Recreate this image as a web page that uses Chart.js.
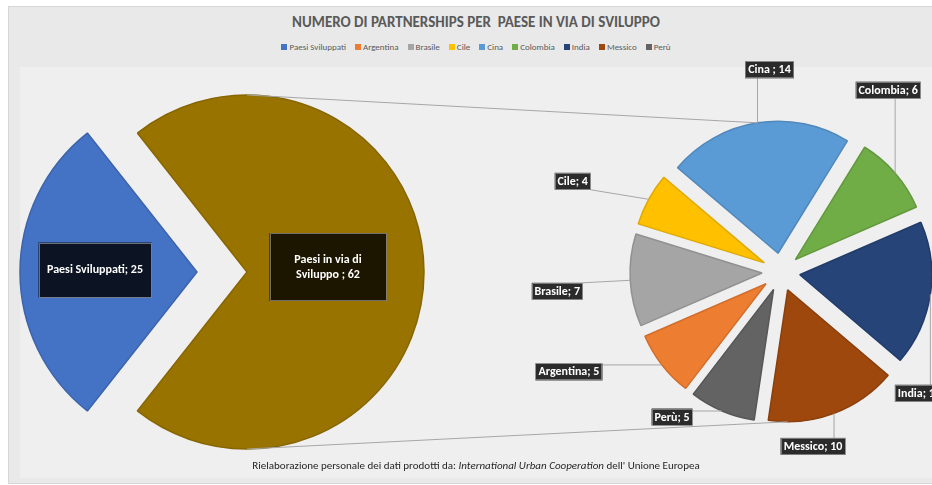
<!DOCTYPE html>
<html lang="it">
<head>
<meta charset="UTF-8">
<title>Numero di partnerships per paese in via di sviluppo</title>
<script src="https://cdn.jsdelivr.net/npm/chart.js"></script>
<style>
  body { margin: 0; background: #ffffff; font-family: Carlito, "Liberation Sans Narrow", "DejaVu Sans Condensed", sans-serif; }
  #wrap { position: relative; width: 932px; height: 485px; overflow: hidden; }
  #box { position: absolute; left: 8px; top: 6px; width: 940px; height: 476px; background: #e9e9e9; border: 1px solid #d6d6d6; }
  #plot { position: absolute; left: 20px; top: 67px; width: 930px; height: 411px; background: #efefef; }
  #title { position: absolute; left: 8px; width: 936px; top: 13px; text-align: center; font-weight: bold; font-size: 15px; color: #595959; white-space: pre; }
  #legend { position: absolute; left: 8px; width: 936px; top: 41px; display: flex; justify-content: center; gap: 9px; font-size: 9px; color: #595959; }
  #legend i { display: inline-block; width: 6px; height: 6px; margin-right: 2px; }
  #note { position: absolute; left: 8px; width: 936px; top: 459px; text-align: center; font-size: 11px; color: #262626; }
  canvas { position: absolute; left: 0; top: 0; }
</style>
</head>
<body>
<div id="wrap">
  <div id="box"></div>
  <div id="plot"></div>
  <div id="title">NUMERO DI PARTNERSHIPS PER  PAESE IN VIA DI SVILUPPO</div>
  <div id="legend"></div>
  <canvas id="devChart" width="932" height="485"></canvas>
  <canvas id="countryChart" width="932" height="485"></canvas>
  <div id="note">Rielaborazione personale dei dati prodotti da: <i>International Urban Cooperation</i> dell' Unione Europea</div>
</div>

<script>
// primo grafico: paesi sviluppati contro paesi in via di sviluppo
const devCategories = ['Paesi Sviluppati', 'Paesi in via di Sviluppo'];
const devValues = [25, 62];

// secondo grafico: dettaglio dei paesi in via di sviluppo
const countries = ['Argentina', 'Brasile', 'Cile', 'Cina', 'Colombia', 'India', 'Messico', 'Perù'];
const countryValues = [5, 7, 4, 14, 6, 11, 10, 5];
const countrySep = ['; ', '; ', '; ', ' ; ', '; ', '; ', '; ', '; '];

const legendNames = ['Paesi Sviluppati'].concat(countries);

const devColors = ['#4472C4', '#997300'];
const countryColors = ['#ED7D31', '#A5A5A5', '#FFC000', '#5B9BD5', '#70AD47', '#264478', '#9E480E', '#636363'];

const labelFont = 'bold 12px Carlito, "Liberation Sans Narrow", "DejaVu Sans Condensed", sans-serif';
const boxFill = 'rgba(0,0,0,0.82)';
const boxStroke = 'rgba(150,150,150,0.7)';
const lineColor = '#a6a6a6';

function shade(hex, f) {
  const n = parseInt(hex.slice(1), 16);
  const r = Math.round(((n >> 16) & 255) * f);
  const g = Math.round(((n >> 8) & 255) * f);
  const b = Math.round((n & 255) * f);
  return 'rgb(' + r + ',' + g + ',' + b + ')';
}

// legenda html
const legend = document.getElementById('legend');
legendNames.forEach((name, i) => {
  const span = document.createElement('span');
  const col = i === 0 ? devColors[0] : countryColors[i - 1];
  span.innerHTML = '<i style="background:' + col + '"></i>' + name;
  legend.appendChild(span);
});

// centro di ogni fetta spostato verso l'esterno (esplosione)
function sliceCenter(arc, d) {
  const mid = (arc.startAngle + arc.endAngle) / 2;
  return { x: arc.x + Math.cos(mid) * d, y: arc.y + Math.sin(mid) * d, mid: mid };
}

function norm(a) {
  const t = Math.PI * 2;
  return ((a % t) + t) % t;
}

// punto sul bordo della torta all'angolo dato (gradi, senso orario dall'alto)
function rimPoint(meta, d, deg) {
  const a = norm((deg - 90) * Math.PI / 180);
  const arc = meta.data.find(el => {
    const s = norm(el.startAngle);
    const span = el.endAngle - el.startAngle;
    const rel = norm(a - s);
    return rel <= span;
  });
  const c = sliceCenter(arc, d);
  return { x: c.x + Math.cos(a) * arc.outerRadius, y: c.y + Math.sin(a) * arc.outerRadius };
}

const explodePlugin = {
  id: 'explode',
  beforeDatasetDraw(chart, args) {
    const d = chart.options.plugins.explode.distance;
    const ctx = chart.ctx;
    args.meta.data.forEach(arc => {
      const c = sliceCenter(arc, d);
      ctx.save();
      ctx.translate(c.x - arc.x, c.y - arc.y);
      arc.draw(ctx);
      ctx.restore();
    });
    return false;
  }
};

function wrapText(ctx, text, maxW) {
  const words = text.split(' ');
  const lines = [];
  let line = '';
  words.forEach(w => {
    const test = line ? line + ' ' + w : w;
    if (ctx.measureText(test).width > maxW && line) {
      lines.push(line);
      line = w;
    } else {
      line = test;
    }
  });
  lines.push(line);
  return lines;
}

function drawBox(ctx, x, y, w, h) {
  ctx.fillStyle = boxFill;
  ctx.fillRect(x, y, w, h);
  ctx.strokeStyle = boxStroke;
  ctx.lineWidth = 1;
  ctx.strokeRect(Math.round(x) + 0.5, Math.round(y) + 0.5, Math.round(w) - 1, Math.round(h) - 1);
}

// etichette dentro le fette del primo grafico
const devBoxes = [{ dist: 102, dy: -2, w: 113, h: 55, wrap: 105 }, { dist: 81, dy: -5, w: 117, h: 68, wrap: 95 }];

const devLabelPlugin = {
  id: 'devLabels',
  afterDatasetsDraw(chart) {
    const ctx = chart.ctx;
    const d = chart.options.plugins.explode.distance;
    const meta = chart.getDatasetMeta(0);
    ctx.save();
    ctx.font = labelFont;
    ctx.textAlign = 'center';
    ctx.textBaseline = 'middle';
    meta.data.forEach((arc, i) => {
      const c = sliceCenter(arc, d);
      const b = devBoxes[i];
      const cx = c.x + Math.cos(c.mid) * b.dist;
      const cy = c.y + Math.sin(c.mid) * b.dist + b.dy;
      drawBox(ctx, cx - b.w / 2, cy - b.h / 2, b.w, b.h);
      const sep = i === 1 ? ' ; ' : '; ';
      const lines = wrapText(ctx, devCategories[i] + sep + devValues[i], b.wrap);
      ctx.fillStyle = '#ffffff';
      lines.forEach((ln, k) => {
        ctx.fillText(ln, cx, cy + (k - (lines.length - 1) / 2) * 15);
      });
    });
    ctx.restore();
  }
};

const devChart = new Chart(document.getElementById('devChart'), {
  type: 'pie',
  data: {
    labels: devCategories,
    datasets: [{
      data: devValues,
      backgroundColor: devColors,
      borderColor: devColors.map(c => shade(c, 0.88)),
      borderWidth: 1.5
    }]
  },
  options: {
    responsive: false,
    animation: false,
    events: [],
    radius: 177,
    // la prima fetta centrata a sinistra
    rotation: 270 - devValues[0] / (devValues[0] + devValues[1]) * 180,
    layout: { padding: { left: 22, top: 72, right: 510, bottom: 13 } },
    plugins: {
      legend: { display: false },
      tooltip: { enabled: false },
      explode: { distance: 25 }
    }
  },
  plugins: [explodePlugin, devLabelPlugin]
});

// posizione dei riquadri rispetto al punto sul bordo della fetta
const countryBoxOffsets = [[-93, 7], [-73, 11], [-76, -18], [12, -53], [-7, -83], [-11, 99], [-21, 33], [-50, 6]];
// angoli (gradi dall'alto) dove arrivano le linee di collegamento
const seriesLineAngles = [351, 180];

const countryLabelPlugin = {
  id: 'countryLabels',
  afterDatasetsDraw(chart) {
    const ctx = chart.ctx;
    const d = chart.options.plugins.explode.distance;
    const meta = chart.getDatasetMeta(0);
    const devMeta = devChart.getDatasetMeta(0);
    const dd = devChart.options.plugins.explode.distance;
    ctx.save();

    // linee di collegamento tra i due grafici
    const top1 = rimPoint(devMeta, dd, 0);
    const bot1 = rimPoint(devMeta, dd, 180);
    const top2 = rimPoint(meta, d, seriesLineAngles[0]);
    const bot2 = rimPoint(meta, d, seriesLineAngles[1]);
    ctx.strokeStyle = lineColor;
    ctx.lineWidth = 1;
    ctx.beginPath();
    ctx.moveTo(top1.x, top1.y);
    ctx.lineTo(top2.x, top2.y);
    ctx.moveTo(bot1.x, bot1.y);
    ctx.lineTo(bot2.x, bot2.y);
    ctx.stroke();

    ctx.font = labelFont;
    ctx.textAlign = 'center';
    ctx.textBaseline = 'middle';
    meta.data.forEach((arc, i) => {
      const c = sliceCenter(arc, d);
      const px = c.x + Math.cos(c.mid) * arc.outerRadius;
      const py = c.y + Math.sin(c.mid) * arc.outerRadius;
      const text = countries[i] + countrySep[i] + countryValues[i];
      const w = Math.round(ctx.measureText(text).width) + 6;
      const h = 17;
      const bx = px + countryBoxOffsets[i][0] - w / 2;
      const by = py + countryBoxOffsets[i][1] - h / 2;
      // linea guida verso il punto più vicino del riquadro
      const ax = Math.min(Math.max(px, bx), bx + w);
      const ay = Math.min(Math.max(py, by), by + h);
      ctx.strokeStyle = lineColor;
      ctx.beginPath();
      ctx.moveTo(ax, ay);
      ctx.lineTo(px, py);
      ctx.stroke();
      drawBox(ctx, bx, by, w, h);
      ctx.fillStyle = '#ffffff';
      ctx.fillText(text, bx + w / 2, by + h / 2 + 0.5);
    });
    ctx.restore();
  }
};

new Chart(document.getElementById('countryChart'), {
  type: 'pie',
  data: {
    labels: countries,
    datasets: [{
      data: countryValues,
      backgroundColor: countryColors,
      borderColor: countryColors.map(c => shade(c, 0.88)),
      borderWidth: 1.5
    }]
  },
  options: {
    responsive: false,
    animation: false,
    events: [],
    radius: 132,
    rotation: 217.5,
    layout: { padding: { left: 631, top: 122, right: 1, bottom: 63 } },
    plugins: {
      legend: { display: false },
      tooltip: { enabled: false },
      explode: { distance: 19 }
    }
  },
  plugins: [explodePlugin, countryLabelPlugin]
});
</script>
</body>
</html>
